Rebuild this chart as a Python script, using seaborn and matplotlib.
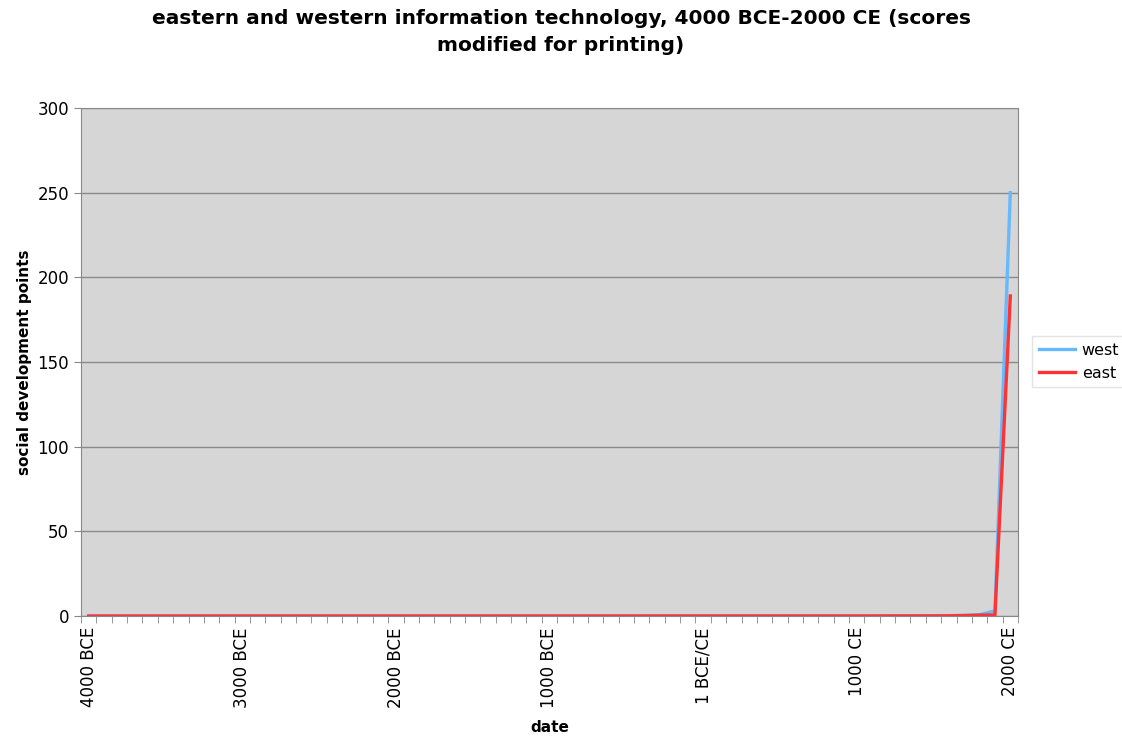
import matplotlib.pyplot as plt
import numpy as np
import pandas as pd
import seaborn as sns

# Dates every 100 years, 4000 BCE to 2000 CE (61 points)
years = list(range(-4000, 2001, 100))

# Information technology scores (~0 until the modern era)
west = [0.00] * 7 + [0.01] * 10 + [0.02] * 10 + [0.03] * 10 + [0.04] * 10 + \
       [0.03, 0.03, 0.04, 0.05, 0.05, 0.06, 0.07, 0.09, 0.12, 0.2, 0.4, 0.8, 3.0, 250.0]
east = [0.00] * 27 + [0.01] * 10 + [0.02] * 10 + \
       [0.03, 0.03, 0.03, 0.04, 0.04, 0.05, 0.05, 0.06, 0.08, 0.12, 0.25, 0.5, 0.6, 189.0]

tick_labels = ['4000 BCE', '3000 BCE', '2000 BCE', '1000 BCE', '1 BCE/CE', '1000 CE', '2000 CE']

df = pd.DataFrame({
    'idx': list(range(len(years))) * 2,
    'score': west + east,
    'series': ['west'] * len(years) + ['east'] * len(years),
})

fig = plt.figure(figsize=(11.22, 7.43), dpi=100)
ax = fig.add_axes([0.0722, 0.1709, 0.8351, 0.6837])
ax.set_facecolor('#d6d6d6')

sns.lineplot(data=df, x='idx', y='score', hue='series',
             palette={'west': '#66b8ff', 'east': '#ff3333'},
             linewidth=2.4, ax=ax, legend=True)

ax.set_xlim(-0.5, len(years) - 0.5)
ax.set_ylim(0, 300)
ax.set_yticks(range(0, 301, 50))
ax.yaxis.grid(True, color='#8a8a8a', linewidth=1)
ax.set_axisbelow(True)

ax.set_xticks(range(0, len(years), 10))
ax.set_xticklabels(tick_labels, rotation=90, fontsize=12)
ax.set_xticks(np.arange(-0.5, len(years), 1), minor=True)
ax.tick_params(axis='x', which='major', length=0, pad=8)
ax.tick_params(axis='x', which='minor', length=5, color='#888888')
ax.tick_params(axis='y', length=5, color='#888888', labelsize=12)

for s in ax.spines.values():
    s.set_color('#888888')

ax.set_xlabel('date', fontsize=11, fontweight='bold')
ax.set_ylabel('social development points', fontsize=11, fontweight='bold')
ax.xaxis.set_label_coords(0.5, -0.205)

fig.suptitle('eastern and western information technology, 4000 BCE-2000 CE (scores\nmodified for printing)',
             fontsize=14.5, fontweight='bold', y=0.988, linespacing=1.55)

handles, labels = ax.get_legend_handles_labels()
ax.legend(handles, labels, loc='center left', bbox_to_anchor=(0.92, 0.513),
          bbox_transform=fig.transFigure,
          frameon=True, fancybox=False, edgecolor='#dddddd', fontsize=11.5,
          handlelength=2.3, handletextpad=0.4, borderpad=0.4, borderaxespad=0)

fig.savefig('out.png', dpi=100)
